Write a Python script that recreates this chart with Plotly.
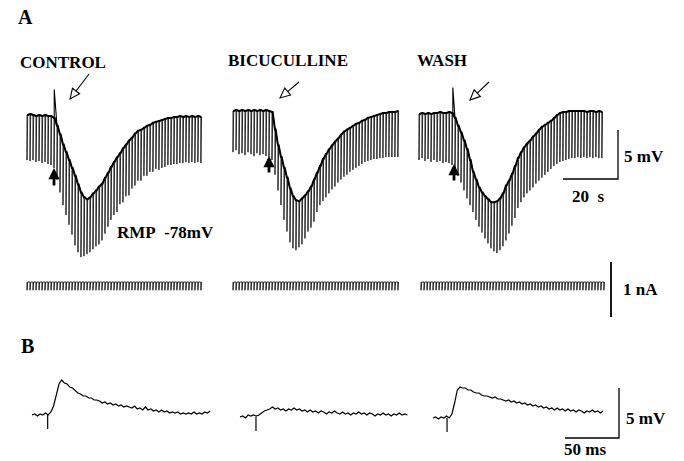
import math
import plotly.graph_objects as go

W, H = 684, 461

# ---------------- DATA ----------------
# Panel A: membrane potential (mV relative to RMP -78 mV) at each current pulse
PULSE_PERIOD_S = 1.09
PULSE_WIDTH_S = 0.25
CURRENT_PULSE_NA = -0.15
RMP_MV = -78

CONTROL_TOP = [0.0, 0.1, 0.0, -0.1, 0.0, -0.1, 0.0, -0.1, -0.1, -0.3,
               -1.1, -2.0, -3.0, -3.8, -4.6, -5.4, -6.2, -7.1, -7.9, -8.4,
               -8.6, -8.4, -8.0, -7.7, -7.3, -7.0, -6.4, -5.9, -5.3, -4.8,
               -4.3, -3.9, -3.4, -3.0, -2.6, -2.3, -1.9, -1.6, -1.5, -1.3,
               -1.1, -1.0, -0.8, -0.7, -0.6, -0.5, -0.4, -0.3, -0.3, -0.2,
               -0.2, -0.1, -0.2, -0.1, -0.2, -0.1, -0.2, -0.1, -0.2]
CONTROL_BOTTOM = [-4.6, -4.7, -4.6, -4.8, -4.7, -4.9, -4.8, -5.0, -5.1, -5.4,
                  -6.6, -7.9, -9.2, -10.2, -11.2, -12.2, -13.3, -14.0, -14.5, -14.4,
                  -14.2, -14.0, -13.7, -13.4, -13.2, -12.8, -12.1, -11.4, -10.7, -10.2,
                  -9.9, -9.1, -8.9, -8.3, -8.2, -7.5, -7.2, -6.7, -6.7, -6.2,
                  -6.2, -5.8, -5.8, -5.5, -5.6, -5.4, -5.3, -5.1, -5.1, -5.0,
                  -5.0, -4.9, -4.9, -4.8, -4.9, -4.8, -4.9, -4.8, -4.9]

BICUC_TOP = [0.0, 0.1, 0.0, 0.1, 0.0, 0.1, 0.0, 0.1, 0.0, 0.1,
             0.0, 0.1, 0.0, -0.1, -1.9, -3.5, -4.7, -5.8, -6.8, -7.9,
             -8.7, -9.1, -9.2, -8.9, -8.6, -8.2, -7.7, -7.0, -6.3, -5.6,
             -4.9, -4.4, -3.9, -3.5, -3.1, -2.8, -2.4, -2.1, -1.9, -1.7,
             -1.5, -1.3, -1.2, -1.0, -0.9, -0.7, -0.6, -0.5, -0.4, -0.3,
             -0.2, -0.2, -0.1, -0.1, -0.1, 0.0]
BICUC_BOTTOM = [-4.2, -4.0, -4.4, -4.3, -4.5, -4.2, -4.4, -4.6, -4.3, -4.5,
                -4.4, -4.6, -4.7, -5.0, -6.5, -8.1, -9.6, -11.1, -12.3, -13.4,
                -14.0, -14.2, -13.9, -13.6, -13.0, -12.3, -11.9, -11.3, -10.3, -9.6,
                -9.2, -8.8, -8.4, -8.0, -7.7, -7.3, -7.0, -6.7, -6.5, -6.2,
                -6.0, -5.8, -5.6, -5.4, -5.2, -5.1, -5.0, -4.9, -4.9, -4.8,
                -4.8, -4.7, -4.7, -4.7, -4.7, -4.7]

WASH_TOP = [-0.1, 0.0, -0.1, 0.0, -0.1, 0.0, 0.0, 0.1, 0.0, 0.0,
            0.1, 0.0, -0.5, -1.3, -2.0, -2.8, -3.7, -4.8, -6.0, -6.8,
            -7.6, -8.1, -8.5, -8.8, -9.1, -9.1, -9.0, -8.7, -8.2, -7.4,
            -6.9, -6.2, -5.4, -4.6, -4.0, -3.5, -3.1, -2.8, -2.4, -2.1,
            -1.7, -1.4, -1.2, -1.0, -0.8, -0.5, -0.2, 0.0, 0.1, 0.1,
            0.2, 0.2, 0.2, 0.2, 0.2, 0.2, 0.1, 0.2, 0.2, 0.1, 0.2, 0.1]
WASH_BOTTOM = [-4.8, -4.6, -4.9, -4.7, -5.0, -4.8, -5.0, -4.9, -5.1, -5.0,
               -5.1, -5.3, -5.8, -6.4, -7.1, -7.9, -8.7, -9.4, -10.1, -10.9,
               -11.6, -12.2, -12.8, -13.3, -13.8, -14.1, -14.3, -14.0, -13.6, -13.0,
               -12.3, -11.5, -10.7, -9.7, -9.1, -8.6, -8.2, -7.9, -7.6, -7.2,
               -6.9, -6.6, -6.3, -6.0, -5.7, -5.4, -5.2, -5.0, -4.9, -4.8,
               -4.7, -4.6, -4.6, -4.5, -4.6, -4.5, -4.6, -4.5, -4.6, -4.5, -4.6, -4.6]

A_STIM_T_S = [9.9, 14.2, 12.3]          # time of synaptic stimulation
A_SPIKE_PEAK_MV = [2.6, None, 2.6]      # stimulus-evoked spike (none in bicuculline)

# Panel B: single evoked potentials (mV relative to baseline), sampled every 2.5 ms
B_DT_MS = 2.5
B_CONTROL = [0.0, 0.1, -0.1, 0.1, 0.0, 0.2, 0.0, 0.3, 0.9, 1.9,
             3.1, 3.5, 3.2, 3.1, 2.8, 2.7, 2.4, 2.2, 2.1, 1.9,
             1.9, 1.7, 1.7, 1.5, 1.5, 1.4, 1.2, 1.3, 1.1, 1.2,
             1.0, 1.1, 0.9, 1.0, 0.8, 0.9, 0.8, 0.7, 0.9, 0.6,
             0.7, 0.5, 0.8, 0.5, 0.6, 0.4, 0.5, 0.3, 0.5, 0.3,
             0.4, 0.2, 0.3, 0.2, 0.3, 0.1, 0.2, 0.1, 0.2, 0.1,
             0.3, 0.1, 0.2, 0.1, 0.3, 0.2, 0.4]
B_BICUC = [0.0, 0.1, -0.1, 0.2, 0.1, 0.2, 0.1, 0.2, 0.4, 0.6,
           0.7, 0.8, 1.0, 0.8, 0.9, 0.7, 0.8, 0.6, 0.8, 0.7,
           0.9, 0.7, 0.8, 0.6, 0.7, 0.5, 0.7, 0.5, 0.6, 0.4,
           0.6, 0.5, 0.3, 0.5, 0.4, 0.6, 0.4, 0.3, 0.5, 0.3,
           0.4, 0.2, 0.4, 0.3, 0.5, 0.3, 0.4, 0.2, 0.4, 0.3,
           0.1, 0.3, 0.2, 0.4, 0.2, 0.3, 0.1, 0.3, 0.2, 0.4,
           0.2, 0.3, 0.2]
B_WASH = [0.0, 0.1, -0.1, 0.1, 0.0, 0.2, 0.0, 0.4, 1.5, 2.8,
          3.1, 3.0, 3.0, 2.8, 2.8, 2.6, 2.5, 2.5, 2.3, 2.2,
          2.2, 2.1, 2.0, 2.1, 1.9, 1.9, 1.8, 1.7, 1.8, 1.6,
          1.7, 1.5, 1.6, 1.4, 1.5, 1.3, 1.4, 1.2, 1.3, 1.1,
          1.2, 1.0, 1.1, 0.9, 1.0, 0.8, 1.0, 0.8, 0.9, 0.7,
          0.9, 0.7, 0.8, 0.6, 0.8, 0.7, 0.5, 0.7, 0.6, 0.8,
          0.6, 0.7, 0.5, 0.7]
B_STIM_T_MS = [14.5, 14.8, 13.0]
B_ARTIFACT_MV = [-1.4, -1.4, -1.4]

CONDITIONS = ["CONTROL", "BICUCULLINE", "WASH"]

# Scale bars
SCALE_A_S, SCALE_A_MV = 20, 5
SCALE_I_NA = 1
SCALE_B_MS, SCALE_B_MV = 50, 5

# ---------------- LAYOUT HELPERS ----------------
layout = dict(width=W, height=H, margin=dict(l=0, r=0, t=0, b=0, pad=0),
              paper_bgcolor="white", plot_bgcolor="rgba(0,0,0,0)",
              showlegend=False)
traces = []


def add_axes(n, L, R, T, Bm, X0, sx, Y0, sy):
    """Axes n occupying pixel box L..R, T..Bm; data 0 at pixel X0/Y0."""
    xk = "xaxis" if n == 1 else f"xaxis{n}"
    yk = "yaxis" if n == 1 else f"yaxis{n}"
    xr = "x" if n == 1 else f"x{n}"
    yr = "y" if n == 1 else f"y{n}"
    layout[xk] = dict(domain=[L / W, R / W], range=[(L - X0) / sx, (R - X0) / sx],
                      visible=False, fixedrange=True, anchor=yr)
    layout[yk] = dict(domain=[1 - Bm / H, 1 - T / H], range=[(Y0 - Bm) / sy, (Y0 - T) / sy],
                      visible=False, fixedrange=True, anchor=xr)
    return xr, yr


def line(x, y, xr, yr, width=1.0, color="black"):
    traces.append(go.Scatter(x=x, y=y, xaxis=xr, yaxis=yr, mode="lines",
                             line=dict(color=color, width=width),
                             hoverinfo="skip"))


def px(x, y):
    return x / W, 1 - y / H


SX_A, SY_A, SY_I = 2.75, 9.8, 55.0      # px per s, px per mV, px per nA
SX_B, SY_B = 1.08, 10.0                 # px per ms, px per mV

# pixel boxes: (L, R, X0 of trace, baseline pixel)
A_BOX = [(15, 215, 27, 115), (220, 410, 233, 111), (412, 684, 419, 113)]
I_BOX = [(15, 215, 27, 282), (220, 410, 233, 282), (412, 684, 421, 282)]
B_BOX = [(15, 222, 32, 415), (225, 425, 240, 417), (428, 684, 433, 418)]

A_DATA = [(CONTROL_TOP, CONTROL_BOTTOM), (BICUC_TOP, BICUC_BOTTOM), (WASH_TOP, WASH_BOTTOM)]
B_DATA = [B_CONTROL, B_BICUC, B_WASH]

n = 0
axA, axI, axB = [], [], []
for k in range(3):
    tops, bots = A_DATA[k]
    times = [i * PULSE_PERIOD_S for i in range(len(tops))]

    # --- voltage trace with hyperpolarising pulses ---
    n += 1
    L, R, X0, Y0 = A_BOX[k]
    xr, yr = add_axes(n, L, R, 40, 270, X0, SX_A, Y0, SY_A)
    axA.append((xr, yr))
    xs, ys = [], []
    for t, a, b in zip(times, tops, bots):
        xs += [t, t, t + PULSE_WIDTH_S, t + PULSE_WIDTH_S]
        ys += [a, b, b, a]
    line(xs, ys, xr, yr, 0.9, "#1a1a1a")
    # envelope (membrane potential)
    ex, ey = [], []
    for t, a in zip(times, tops):
        ex += [t, t + PULSE_WIDTH_S]
        ey += [a, a]
    line(ex, ey, xr, yr, 2.0)
    # stimulus-evoked spike: thin upstroke and falling line into the envelope
    st, pk = A_STIM_T_S[k], A_SPIKE_PEAK_MV[k]
    if pk is not None:
        i_prev = max(i for i, t in enumerate(times) if t <= st)
        i_next = i_prev + 1
        line([st, st, times[i_next]], [tops[i_prev], pk, tops[i_next]], xr, yr, 1.1)

    # --- current monitor ---
    n += 1
    L, R, X0, Y0 = I_BOX[k]
    xr, yr = add_axes(n, L, R, 255, 325, X0, SX_A, Y0, SY_I)
    axI.append((xr, yr))
    cx, cy = [], []
    for t in times:
        cx += [t, t, t + PULSE_WIDTH_S, t + PULSE_WIDTH_S]
        cy += [0, CURRENT_PULSE_NA, CURRENT_PULSE_NA, 0]
    line(cx, cy, xr, yr, 0.9, "#1a1a1a")

    # --- panel B single responses ---
    n += 1
    L, R, X0, Y0 = B_BOX[k]
    xr, yr = add_axes(n, L, R, 370, 445, X0, SX_B, Y0, SY_B)
    axB.append((xr, yr))
    vals = B_DATA[k]
    bt = [i * B_DT_MS for i in range(len(vals))]
    line(bt, vals, xr, yr, 1.2)
    line([B_STIM_T_MS[k]] * 2, [0, B_ARTIFACT_MV[k]], xr, yr, 1.2)

# ---- scale bars (drawn in the data axes of the WASH traces) ----
xr, yr = axA[2]
bx = (618 - 419) / SX_A
by = (113 - 179) / SY_A
line([bx - SCALE_A_S, bx, bx], [by, by, by + SCALE_A_MV], xr, yr, 1.3)

xr, yr = axI[2]
ix = (611 - 421) / SX_A
iy = (282 - 317) / SY_I
line([ix, ix], [iy, iy + SCALE_I_NA], xr, yr, 1.8)

xr, yr = axB[2]
bbx = (619 - 433) / SX_B
bby = (418 - 438) / SY_B
line([bbx - SCALE_B_MS, bbx, bbx], [bby, bby, bby + SCALE_B_MV], xr, yr, 1.3)

# ---------------- TEXT & ARROWS ----------------
FONT = "Liberation Serif"
annotations = []


def text(s, x, y, size=17):
    X, Y = px(x, y)
    annotations.append(dict(text=f"<b>{s}</b>", x=X, y=Y, xref="paper", yref="paper",
                            showarrow=False, xanchor="center", yanchor="middle",
                            borderpad=0,
                            font=dict(family=FONT, size=size, color="black")))


text("A", 25, 17, 20)
text("B", 27, 346, 20)
text("CONTROL", 63, 62)
text("BICUCULLINE", 288, 60)
text("WASH", 442, 60)
text("RMP\u00a0 -78mV", 165, 232)
text(f"{SCALE_A_MV} mV", 644, 157)
text(f"{SCALE_A_S}\u00a0 s", 588, 197)
text(f"{SCALE_I_NA} nA", 640, 289)
text(f"{SCALE_B_MV} mV", 646, 418)
text(f"{SCALE_B_MS} ms", 585, 449)

# filled upward arrows marking stimulation
for (x, tip, tail) in [(54, 168, 187), (269, 156, 174), (454, 164, 182)]:
    X, Y = px(x, tip)
    annotations.append(dict(text="", x=X, y=Y, xref="paper", yref="paper",
                            showarrow=True, ax=0, ay=tail - tip, arrowhead=2,
                            arrowsize=0.8, arrowwidth=2.8, arrowcolor="black",
                            standoff=0))

# open-headed arrows
shapes = []


def open_arrow(tail, tip, head_len=10.0, half_w=4.5):
    (x0, y0), (x1, y1) = tail, tip
    dx, dy = x1 - x0, y1 - y0
    Ln = math.hypot(dx, dy)
    ux, uy = dx / Ln, dy / Ln
    nx, ny = -uy, ux
    cxp, cyp = x1 - head_len * ux, y1 - head_len * uy
    a = px(x0, y0)
    c = px(cxp, cyp)
    shapes.append(dict(type="line", xref="paper", yref="paper", x0=a[0], y0=a[1],
                       x1=c[0], y1=c[1], line=dict(color="black", width=1.1)))
    p0 = px(x1, y1)
    p1 = px(cxp + half_w * nx, cyp + half_w * ny)
    p2 = px(cxp - half_w * nx, cyp - half_w * ny)
    path = f"M {p0[0]},{p0[1]} L {p1[0]},{p1[1]} L {p2[0]},{p2[1]} Z"
    shapes.append(dict(type="path", xref="paper", yref="paper", path=path,
                       fillcolor="white", line=dict(color="black", width=1.1)))


open_arrow((89, 74), (70, 99))
open_arrow((299, 82), (280, 98))
open_arrow((489, 82), (470, 100))

layout["annotations"] = annotations
layout["shapes"] = shapes

fig = go.Figure(data=traces, layout=layout)
fig.write_html("out.html", config={"displayModeBar": False},
               post_script="document.body.style.margin='0';document.body.style.overflow='hidden';")
